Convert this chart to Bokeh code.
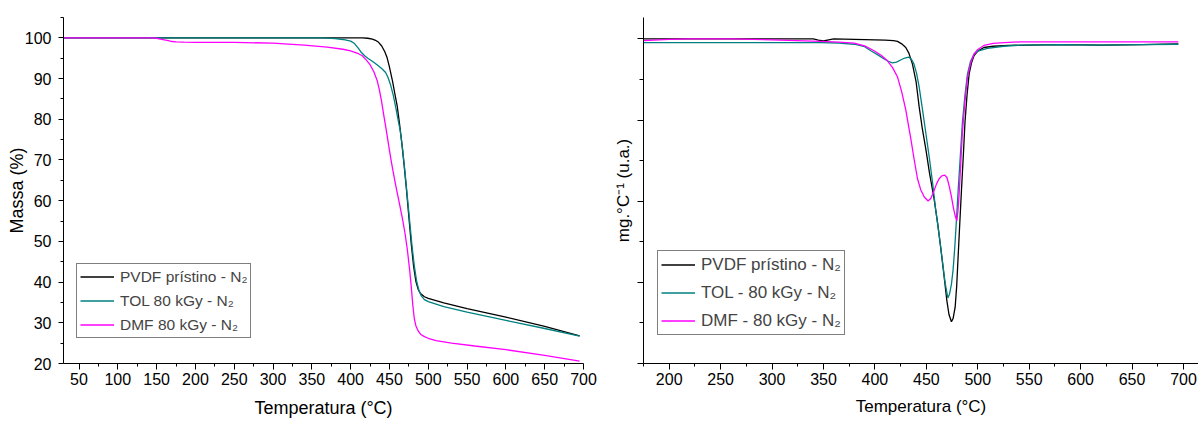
from bokeh.plotting import figure
from bokeh.models import Range1d, FixedTicker, Legend, LegendItem
from bokeh.layouts import row
from bokeh.embed import file_html
from bokeh.resources import INLINE

FONT = "Liberation Sans"

# ---------------- TGA (left) ----------------
tga_t_pvdf = [30, 100, 200, 300, 400, 415, 422, 428, 432, 436, 440, 444, 447, 450, 454, 457, 460, 463, 466,
              469, 472, 475, 478, 481, 484, 487, 490, 495, 500, 520, 550, 600, 650, 695]
tga_m_pvdf = [100, 100, 100, 100, 100, 100, 99.9, 99.7, 99.4, 98.9, 98.0, 96.6, 95.1, 92.8, 89.3, 86.2, 83.2,
              78.8, 74.0, 68.5, 62.5, 56.0, 49.5, 44.0, 40.2, 38.2, 37.2, 36.4, 36.0, 34.9, 33.5, 31.4, 29.1, 26.8]

tga_t_tol = [30, 150, 300, 360, 370, 380, 390, 400, 405, 410, 413, 418, 422, 426, 431, 436, 441, 445, 448,
             451.5, 455, 458, 461, 464, 467, 470, 473, 476, 479, 482, 485, 488, 491, 495, 500, 520, 550, 600,
             650, 695]
tga_m_tol = [100, 100, 100, 100, 99.95, 99.8, 99.6, 99.2, 98.6, 97.4, 96.6, 95.6, 95.0, 94.5, 93.8, 93.1,
             92.3, 91.5, 90.3, 88.4, 85.8, 83.0, 80.0, 77.0, 72.5, 67.0, 61.0, 55.0, 49.0, 44.0, 40.2, 37.9,
             36.6, 35.7, 35.2, 34.0, 32.6, 30.6, 28.6, 26.7]

tga_t_dmf = [30, 100, 145, 150, 155, 160, 165, 170, 175, 185, 200, 250, 300, 340, 370, 390, 400, 410, 415,
             420, 425, 430, 434, 437, 440, 443, 446, 449, 452, 455, 458, 461, 464, 467, 470, 473, 476, 478,
             480, 482, 484, 487, 490, 495, 500, 510, 530, 560, 600, 650, 695]
tga_m_dmf = [100, 100, 100, 99.9, 99.7, 99.5, 99.3, 99.1, 99.0, 98.95, 98.9, 98.9, 98.7, 98.2, 97.7, 97.2,
             96.8, 96.1, 95.6, 94.6, 93.4, 91.6, 89.6, 87.2, 84.2, 80.6, 77.2, 73.5, 70.0, 66.8, 63.8, 61.0,
             58.2, 55.3, 52.0, 48.0, 43.0, 39.0, 34.5, 31.0, 29.3, 28.0, 27.2, 26.6, 26.2, 25.6, 25.0, 24.3,
             23.4, 22.0, 20.6]

# ---------------- DTG (right), arbitrary units ----------------
dtg_t_pvdf = [175, 250, 300, 340, 345, 350, 355, 360, 380, 400, 410, 418, 422, 426, 430, 433, 436.5, 440,
              443, 446, 449.5, 453, 457.5, 461, 464, 467, 469.9, 472, 474.4, 476, 478, 479.5, 481, 482.5,
              484.2, 486, 487.5, 489.5, 491.6, 494, 496.4, 500, 506, 515, 530, 550, 580, 620, 660, 695]
dtg_v_pvdf = [0.0, 0.0, 0.0, 0.0, -0.03, -0.05, -0.02, 0.0, -0.01, -0.02, -0.03, -0.04, -0.06, -0.12, -0.21,
              -0.35, -0.62, -1.05, -1.67, -2.2, -2.72, -3.3, -3.94, -4.55, -5.16, -5.8, -6.45, -6.8, -6.98,
              -6.9, -6.62, -6.1, -5.32, -4.55, -3.7, -2.85, -2.08, -1.4, -0.86, -0.58, -0.41, -0.3, -0.21,
              -0.18, -0.16, -0.15, -0.14, -0.15, -0.14, -0.12]

dtg_t_tol = [175, 250, 300, 347, 365, 380, 390, 396, 402, 409, 413, 417, 421, 425, 429, 433, 435.5, 438,
             440.5, 443, 446, 449.5, 453, 456, 459, 462.4, 465, 468, 469.5, 470.9, 472.5, 474.4, 476, 477.6,
             479.3, 481, 483, 485, 487.5, 490, 493, 496.4, 500, 509.4, 525, 541.8, 580, 620, 660, 695]
dtg_v_tol = [-0.09, -0.09, -0.09, -0.09, -0.1, -0.13, -0.19, -0.29, -0.38, -0.49, -0.55, -0.59, -0.57,
             -0.52, -0.47, -0.45, -0.5, -0.62, -0.85, -1.18, -1.7, -2.32, -2.95, -3.54, -4.2, -4.83, -5.35,
             -5.97, -6.2, -6.39, -6.3, -6.05, -5.7, -5.16, -4.45, -3.7, -2.9, -2.08, -1.4, -0.86, -0.55,
             -0.37, -0.3, -0.23, -0.18, -0.15, -0.14, -0.15, -0.14, -0.13]

dtg_t_dmf = [175, 200, 220, 260, 300, 347, 365, 379.7, 390, 399.2, 406, 412.2, 417, 422, 426, 430, 435, 438,
             441.4, 444.5, 448, 451.7, 454.5, 457.5, 460, 462.4, 465, 467.9, 470, 472.1, 474.3, 476.4, 478,
             479.6, 480.7, 481.8, 483.4, 485, 487.5, 490, 493, 496.4, 500, 506, 515, 525.6, 541.8, 580, 620,
             660, 695]
dtg_v_dmf = [-0.04, -0.01, 0.0, 0.0, -0.02, -0.06, -0.08, -0.1, -0.17, -0.29, -0.4, -0.54, -0.7, -0.94, -1.3,
             -1.75, -2.48, -2.95, -3.45, -3.72, -3.9, -4.0, -3.93, -3.74, -3.57, -3.45, -3.38, -3.36, -3.42,
             -3.62, -3.88, -4.18, -4.36, -4.49, -4.25, -3.86, -3.1, -2.32, -1.55, -0.94, -0.6, -0.37, -0.26,
             -0.16, -0.11, -0.09, -0.07, -0.07, -0.07, -0.07, -0.07]

left_labels = ["PVDF prístino - N\u2082", "TOL 80 kGy - N\u2082", "DMF 80 kGy - N\u2082"]
right_labels = ["PVDF prístino - N\u2082", "TOL - 80 kGy - N\u2082", "DMF - 80 kGy - N\u2082"]
colors = ["#000000", "#008080", "#FF00FF"]

x_title = "Temperatura (°C)"
left_y_title = "Massa (%)"
right_y_title = "mg.°C\u207b\u00b9 (u.a.)"

left_xticks = list(range(50, 701, 50))
left_xminor = list(range(75, 700, 50))
left_yticks = list(range(20, 101, 10))
left_yminor = list(range(25, 106, 10))
right_xticks = list(range(200, 701, 50))
right_xminor = list(range(175, 726, 50))
right_yticks = [0, -2, -4, -6, -8]
right_yminor = [-1, -3, -5, -7]


def style(p):
    p.xgrid.visible = False
    p.ygrid.visible = False
    p.outline_line_color = None
    p.background_fill_color = "white"
    p.border_fill_color = "white"
    for ax in (p.xaxis[0], p.yaxis[0]):
        ax.axis_line_color = "black"
        ax.axis_line_width = 1
        ax.major_tick_line_color = "black"
        ax.minor_tick_line_color = "black"
        ax.major_tick_in = 0
        ax.minor_tick_in = 0
        ax.major_tick_out = 6
        ax.minor_tick_out = 3
        ax.major_label_text_font = FONT
        ax.major_label_text_font_size = "16px"
        ax.major_label_text_color = "black"
        ax.axis_label_text_font = FONT
        ax.axis_label_text_font_style = "normal"
        ax.axis_label_text_color = "black"
    p.xaxis[0].major_label_standoff = 3
    p.yaxis[0].major_label_standoff = 7


# ---------- left figure ----------
p1 = figure(width=600, height=421, x_range=Range1d(30, 700), y_range=Range1d(20, 105),
            output_backend="svg", toolbar_location=None,
            min_border_left=63, min_border_right=17, min_border_top=17, min_border_bottom=58)
style(p1)
p1.xaxis[0].ticker = FixedTicker(ticks=left_xticks, minor_ticks=left_xminor)
p1.yaxis[0].ticker = FixedTicker(ticks=left_yticks, minor_ticks=left_yminor)
p1.yaxis[0].major_tick_out = 5
p1.xaxis[0].axis_label = x_title
p1.xaxis[0].axis_label_text_font_size = "18px"
p1.xaxis[0].axis_label_standoff = 10
p1.yaxis[0].axis_label = left_y_title
p1.yaxis[0].axis_label_text_font_size = "18px"
p1.yaxis[0].axis_label_standoff = -5

r_l = [
    p1.line(tga_t_pvdf, tga_m_pvdf, line_color=colors[0], line_width=1.3),
    p1.line(tga_t_tol, tga_m_tol, line_color=colors[1], line_width=1.3),
    p1.line(tga_t_dmf, tga_m_dmf, line_color=colors[2], line_width=1.3),
]
leg1 = Legend(items=[LegendItem(label=l, renderers=[r]) for l, r in zip(left_labels, r_l)],
              location=(13, 25), label_text_font=FONT, label_text_font_size="15.5px",
              glyph_width=34, glyph_height=19, label_height=19, spacing=5, padding=3, margin=0,
              label_standoff=6, border_line_color="black", border_line_width=1,
              background_fill_color="white", background_fill_alpha=1)
p1.add_layout(leg1)

# ---------- right figure ----------
p2 = figure(width=598, height=421, x_range=Range1d(175, 714.6), y_range=Range1d(-8.01, 0.53),
            output_backend="svg", toolbar_location=None,
            min_border_left=43, min_border_right=0, min_border_top=13, min_border_bottom=57)
style(p2)
p2.xaxis[0].ticker = FixedTicker(ticks=right_xticks, minor_ticks=right_xminor)
p2.yaxis[0].ticker = FixedTicker(ticks=right_yticks, minor_ticks=right_yminor)
p2.yaxis[0].major_label_overrides = {t: "" for t in right_yticks}
p2.yaxis[0].minor_tick_out = 4
p2.yaxis[0].major_label_standoff = 0
p2.xaxis[0].axis_label = x_title
p2.xaxis[0].axis_label_text_font_size = "17px"
p2.xaxis[0].axis_label_standoff = 9
p2.yaxis[0].axis_label = right_y_title
p2.yaxis[0].axis_label_text_font_size = "17px"
p2.yaxis[0].axis_label_standoff = 5

r_r = [
    p2.line(dtg_t_pvdf, dtg_v_pvdf, line_color=colors[0], line_width=1.3),
    p2.line(dtg_t_tol, dtg_v_tol, line_color=colors[1], line_width=1.3),
    p2.line(dtg_t_dmf, dtg_v_dmf, line_color=colors[2], line_width=1.3),
]
leg2 = Legend(items=[LegendItem(label=l, renderers=[r]) for l, r in zip(right_labels, r_r)],
              location=(14, 28), label_text_font=FONT, label_text_font_size="17px",
              glyph_width=34, glyph_height=21, label_height=21, spacing=7, padding=3, margin=0,
              label_standoff=6, border_line_color="black", border_line_width=1,
              background_fill_color="white", background_fill_alpha=1)
p2.add_layout(leg2)

layout = row(p1, p2)
open("out.html", "w").write(file_html(layout, INLINE))
